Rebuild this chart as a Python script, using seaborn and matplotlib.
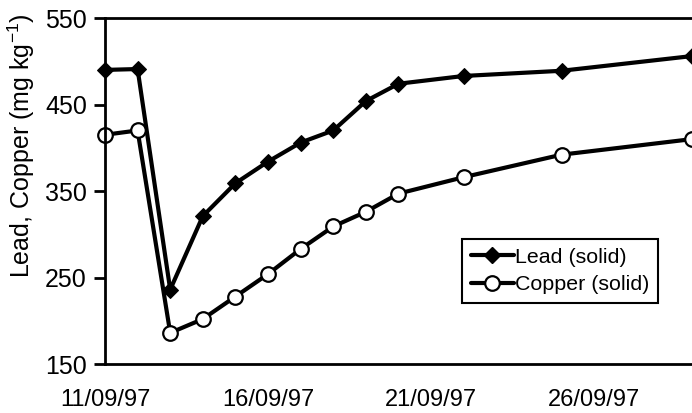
import matplotlib
matplotlib.use("Agg")
import matplotlib.pyplot as plt
import matplotlib.dates as mdates
from matplotlib.lines import Line2D
import seaborn as sns
import pandas as pd

# Data
dates = ["1997-09-11", "1997-09-12", "1997-09-13", "1997-09-14", "1997-09-15",
         "1997-09-16", "1997-09-17", "1997-09-18", "1997-09-19", "1997-09-20",
         "1997-09-22", "1997-09-25", "1997-09-29"]
lead = [490, 491, 236, 321, 359, 384, 406, 420, 454, 474, 483, 489, 506]
copper = [415, 420, 186, 202, 228, 254, 283, 309, 326, 347, 366, 392, 410]
series_names = ["Lead (solid)", "Copper (solid)"]
y_ticks = [150, 250, 350, 450, 550]

sns.set_style("white")
plt.rcParams["font.family"] = ["Liberation Sans", "DejaVu Sans"]
plt.rcParams["mathtext.fontset"] = "custom"
plt.rcParams["mathtext.rm"] = "Liberation Sans"
plt.rcParams["mathtext.it"] = "Liberation Sans"
plt.rcParams["text.color"] = "black"
plt.rcParams["axes.labelcolor"] = "black"
plt.rcParams["xtick.color"] = "black"
plt.rcParams["ytick.color"] = "black"

df = pd.DataFrame({
    "date": pd.to_datetime(dates * 2),
    "value": lead + copper,
    "series": [series_names[0]] * len(lead) + [series_names[1]] * len(copper),
})

fig = plt.figure(figsize=(6.92, 4.13), dpi=100)
ax = fig.add_axes([0.1517, 0.1186, 1.0 - 0.1517, 0.9564 - 0.1186])

sns.lineplot(data=df, x="date", y="value", hue="series", style="series",
             palette={series_names[0]: "black", series_names[1]: "black"},
             markers={series_names[0]: "D", series_names[1]: "o"},
             dashes=False, linewidth=3, ax=ax, legend=False)

lines = ax.get_lines()
lines[0].set_markersize(8.5)
lines[0].set_markerfacecolor("black")
lines[0].set_markeredgecolor("black")
lines[1].set_markersize(10.5)
lines[1].set_markerfacecolor("white")
lines[1].set_markeredgecolor("black")
lines[1].set_markeredgewidth(1.6)
for ln in lines:
    ln.set_clip_on(False)

ax.set_xlim(pd.Timestamp("1997-09-11"), pd.Timestamp("1997-09-29"))
ax.set_ylim(150, 550)
ax.set_yticks(y_ticks)
ax.xaxis.set_major_locator(mdates.DayLocator(bymonthday=[11, 16, 21, 26]))
ax.xaxis.set_minor_locator(mdates.DayLocator())
ax.xaxis.set_major_formatter(mdates.DateFormatter("%d/%m/%y"))

ax.tick_params(axis="x", which="major", direction="inout", length=14, width=2,
               labelsize=17, pad=11, colors="black")
ax.tick_params(axis="x", which="minor", direction="in", length=6, width=2)
ax.tick_params(axis="y", which="major", direction="out", length=8, width=2,
               labelsize=18, pad=5, left=True, colors="black")

for side in ["left", "bottom", "top"]:
    ax.spines[side].set_linewidth(2)
    ax.spines[side].set_color("black")
ax.spines["right"].set_visible(False)

ax.set_xlabel("")
ax.set_ylabel("Lead, Copper (mg kg$^{-1}$)", fontsize=18)
ax.yaxis.set_label_coords(-0.116, 0.63)

handles = [
    Line2D([], [], color="black", lw=3, marker="D", markersize=8.5,
           markerfacecolor="black", markeredgecolor="black"),
    Line2D([], [], color="black", lw=3, marker="o", markersize=10.5,
           markerfacecolor="white", markeredgecolor="black", markeredgewidth=1.6),
]
leg = ax.legend(handles, series_names, loc="upper left",
                bbox_to_anchor=(0.609, 0.361), borderaxespad=0,
                fontsize=15.4, frameon=True, fancybox=False, framealpha=1,
                edgecolor="black", handlelength=2.0, handletextpad=0.05,
                borderpad=0.4, labelspacing=0.4)
leg.get_frame().set_linewidth(1.5)
for t in leg.get_texts():
    t.set_color("black")

fig.savefig("out.png", dpi=100, facecolor="white")
